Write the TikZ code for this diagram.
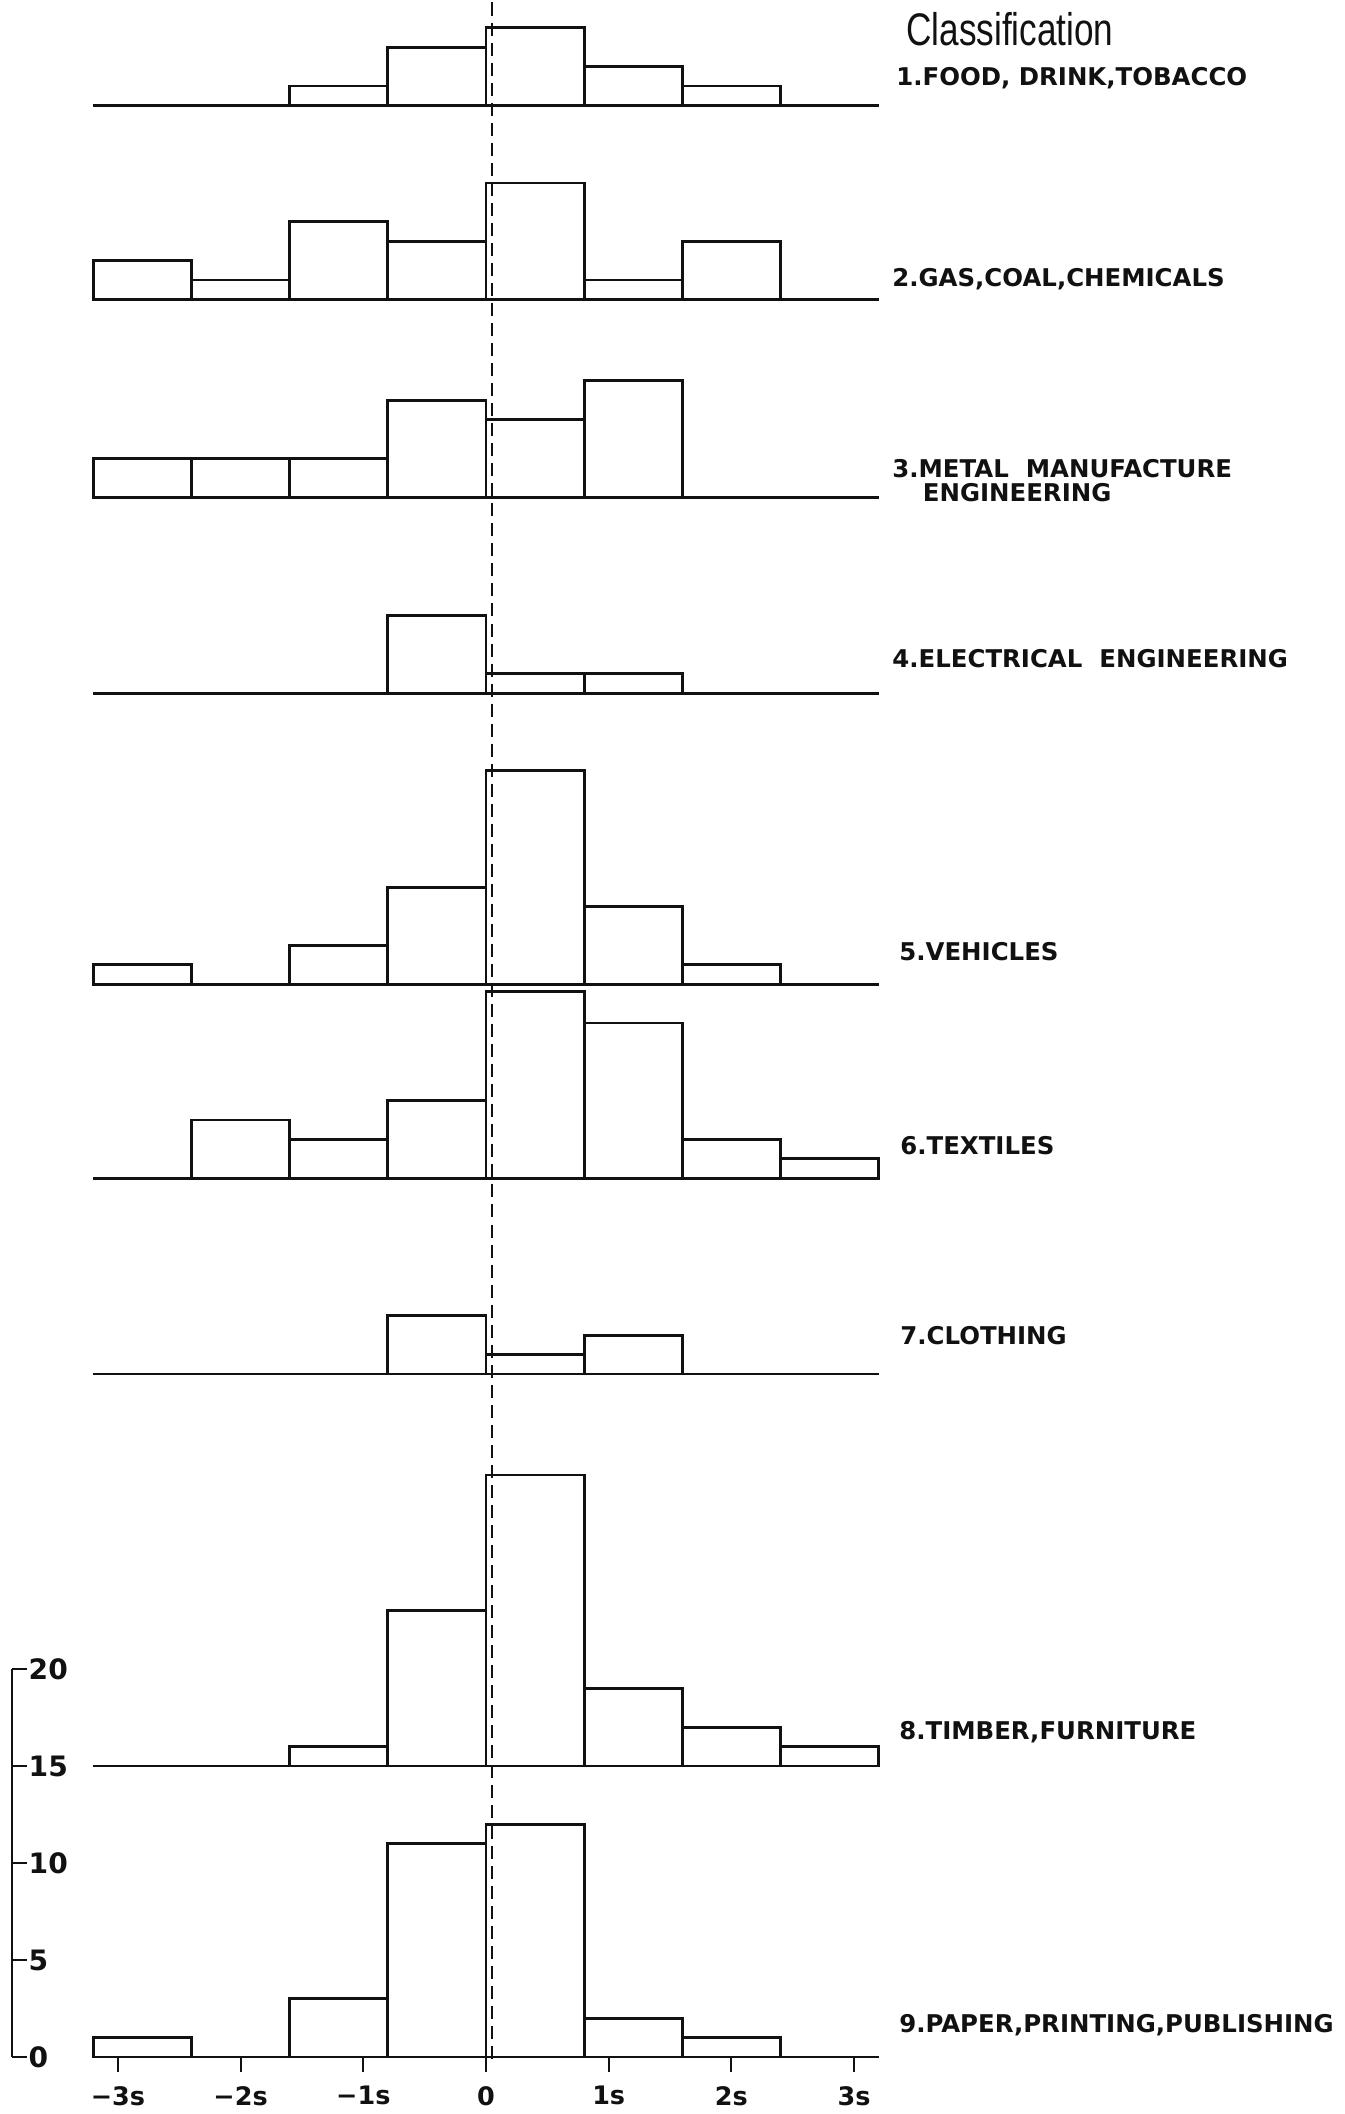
\documentclass[tikz,border=0pt]{standalone}
\usepackage{fontspec}
\setsansfont{DejaVu Sans}
\newfontfamily\classfont{Liberation Sans}
\usepackage{graphicx}
\usepackage{tikz}
\usetikzlibrary{positioning}
\definecolor{ink}{HTML}{111111}
\newcommand{\catfont}{\sffamily\bfseries\fontsize{13.9}{13.6}\selectfont}
\tikzset{
  histbar/.style={draw=ink,line width=1.6pt},
  zeroline/.style={draw=ink,line width=1.6pt},
  meanline/.style={draw=ink,line width=1.2pt,dash pattern=on 7.4pt off 4pt},
  catlabel/.style={anchor=west,inner sep=0pt,align=left,font=\catfont,text=ink},
  scalelabel/.style={anchor=west,inner sep=0pt,text=ink,
                     font=\sffamily\bfseries\fontsize{16}{18}\selectfont},
  sdlabel/.style={inner sep=0pt,text=ink,
                  font=\sffamily\bfseries\fontsize{14.5}{16}\selectfont}
}

\begin{document}
\begin{tikzpicture}[x=2.454cm,y=0.388cm]
  \useasboundingbox (-3.961,-2.94) rectangle (6.993,106.03);
  % one histogram per class: baseline / counts in bins of 0.8s
  \foreach \base/\counts in {100.6/{0,0,1,3,4,2,1,0},90.6/{2,1,4,3,6,1,3,0},
      80.4/{2,2,2,5,4,6,0,0},70.3/{0,0,0,4,1,1,0,0},55.3/{1,0,2,5,11,4,1,0},
      45.3/{0,3,2,4,9.6,8,2,1},35.2/{0,0,0,3,1,2,0,0},15/{0,0,1,8,15,4,2,1},
      0/{1,0,3,11,12,2,1,0}}{
    \draw[zeroline] (-3.2,\base)--(3.2,\base);
    \foreach \h [count=\i from 0] in \counts
      \draw[histbar] ({-3.2+0.8*\i},\base) rectangle ({-2.4+0.8*\i},{\base+\h});
  }
  % mean
  \coordinate (meantop) at (0.05,105.9);
  \coordinate (meanbot) at (0.05,-0.3);
  \draw[meanline] (meantop)--(meanbot);
  % count scale
  \draw[zeroline] (-3.863,0)--(-3.863,20);
  \foreach \v in {0,5,...,20}{
    \draw[zeroline] (-3.863,\v)--(-3.74,\v);
    \node[scalelabel] (scale\v) at (-3.73,\v) {\v};
  }
  % standard deviations
  \foreach \k/\txt [count=\j] in {-3/−3s,-2/−2s,-1/−1s,0/0,1/1s,2/2s,3/3s}{
    \draw[draw=ink,line width=1.2pt] (\k,0)--(\k,-0.75);
    \node[sdlabel] (sd\j) at (\k,-2.0) {\txt};
  }
  % class names
  \node[anchor=west,inner sep=0pt,text=ink,font=\classfont\fontsize{20}{22}\selectfont]
    (classif) at (3.423,104.5) {\scalebox{1}[1.3]{Classification}};
  \node[catlabel] (food) at (3.341,102.0) {1.FOOD, DRINK,TOBACCO};
  \node[catlabel] (gas) at (3.309,91.65) {2.GAS,COAL,CHEMICALS};
  \node[catlabel] (metal) at (3.309,81.24)
    {3.METAL\ \ MANUFACTURE\\\hspace*{1.25em}ENGINEERING};
  \node[catlabel] (elec) at (3.309,72.06) {4.ELECTRICAL\ \ ENGINEERING};
  \node[catlabel] (vehic) at (3.366,57.0) {5.VEHICLES};
  \node[catlabel] (textil) at (3.374,46.96) {6.TEXTILES};
  \node[catlabel] (cloth) at (3.374,37.2) {7.CLOTHING};
  \node[catlabel] (timber) at (3.366,16.75) {8.TIMBER,FURNITURE};
  \node[catlabel] (paper) at (3.366,1.65) {9.PAPER,PRINTING,PUBLISHING};
\end{tikzpicture}
\end{document}
